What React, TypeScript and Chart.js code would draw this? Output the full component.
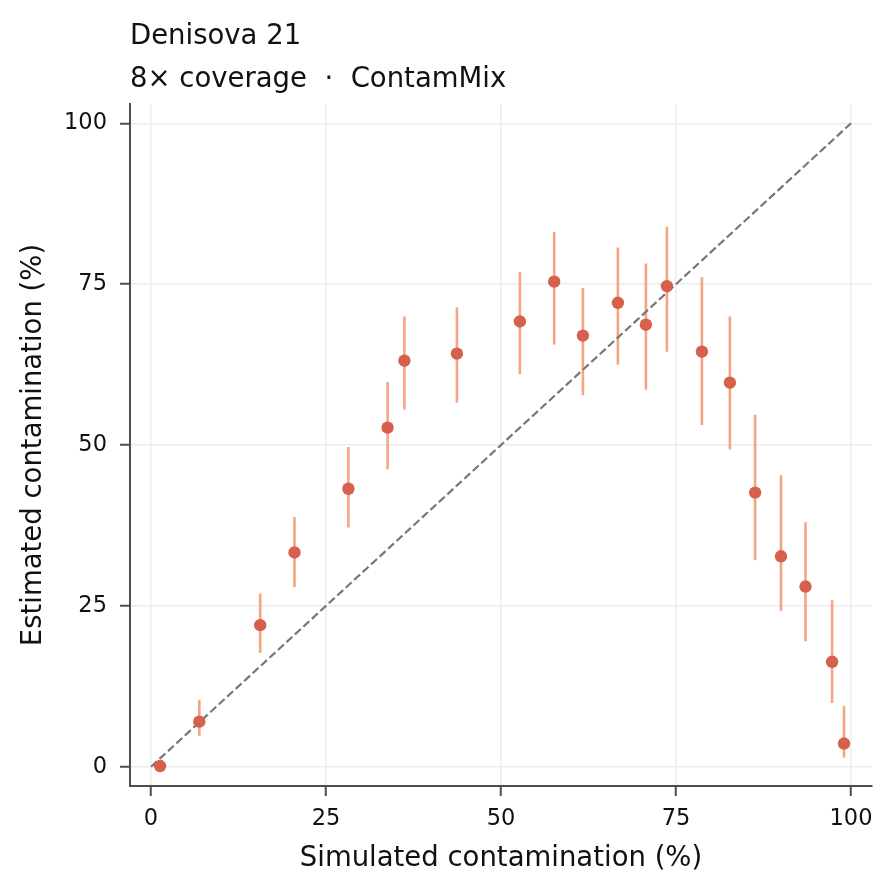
import React, { useEffect, useRef } from 'react';
import { Chart, registerables } from 'chart.js';

Chart.register(...registerables);

// Simulated vs estimated contamination (%), with interval bounds
const simulated = [1.3, 6.9, 15.6, 20.5, 28.2, 33.8, 36.2, 43.7, 52.7, 57.6, 61.7, 66.7, 70.7, 73.7, 78.7, 82.7, 86.3, 90.0, 93.5, 97.3, 99.0];
const estimated = [0.1, 7.0, 22.0, 33.3, 43.2, 52.7, 63.1, 64.2, 69.2, 75.4, 67.0, 72.1, 68.7, 74.7, 64.5, 59.7, 42.6, 32.7, 28.0, 16.3, 3.6];
const ciLow = [0.0, 4.8, 17.7, 27.9, 37.2, 46.2, 55.5, 56.6, 61.0, 65.6, 57.7, 62.5, 58.6, 64.5, 53.1, 49.3, 32.1, 24.2, 19.5, 9.9, 1.4];
const ciHigh = [0.3, 10.4, 26.9, 38.8, 49.7, 59.8, 70.0, 71.4, 76.9, 83.1, 74.4, 80.7, 78.2, 83.9, 76.1, 70.0, 54.7, 45.3, 38.0, 25.9, 9.4];
const identityLine = [0, 100];
const tickValues = [0, 25, 50, 75, 100];

const FONT = '"DejaVu Sans", sans-serif';
const SPINE = '#4d4d4d';
const GRID = '#ececec';
const TEXT = '#111111';

// vertical error bars, drawn under the markers
const errorBars = {
  id: 'errorBars',
  beforeDatasetsDraw(chart: any) {
    const { ctx, scales } = chart;
    const x = scales.x;
    const y = scales.y;
    ctx.save();
    ctx.strokeStyle = '#f4a582';
    ctx.lineWidth = 2.6;
    simulated.forEach((sx, i) => {
      const px = x.getPixelForValue(sx);
      ctx.beginPath();
      ctx.moveTo(px, y.getPixelForValue(ciLow[i]));
      ctx.lineTo(px, y.getPixelForValue(ciHigh[i]));
      ctx.stroke();
    });
    ctx.restore();
  },
};

const fixedTicks = (scale: any) => {
  scale.ticks = tickValues.map((v) => ({ value: v }));
};

const App: React.FC = () => {
  const chartRef = useRef<HTMLCanvasElement>(null);
  const chartInstance = useRef<Chart | null>(null);

  useEffect(() => {
    if (!chartRef.current) return;
    if (chartInstance.current) chartInstance.current.destroy();

    Chart.defaults.font.family = FONT;

    chartInstance.current = new Chart(chartRef.current, {
      type: 'scatter',
      data: {
        datasets: [
          {
            label: 'Estimate',
            data: simulated.map((sx, i) => ({ x: sx, y: estimated[i] })),
            pointRadius: 6.2,
            pointBackgroundColor: '#d6604d',
            pointBorderWidth: 0,
            borderColor: '#d6604d',
            order: 0,
          },
          {
            label: 'y = x',
            data: identityLine.map((v) => ({ x: v, y: v })),
            showLine: true,
            borderColor: '#777777',
            borderWidth: 2.2,
            borderDash: [8, 3.5],
            pointRadius: 0,
            order: 1,
          },
        ],
      },
      options: {
        animation: false,
        responsive: true,
        maintainAspectRatio: false,
        layout: { padding: { left: 0, right: 22, top: 0, bottom: 0 } },
        plugins: {
          legend: { display: false },
          tooltip: { enabled: false },
          title: {
            display: true,
            text: 'Denisova 21',
            align: 'start',
            fullSize: false,
            color: TEXT,
            font: { family: FONT, size: 27.5, weight: 'normal' },
            padding: { top: 20.7, bottom: 0 },
          },
          subtitle: {
            display: true,
            text: '8× coverage  ·  ContamMix',
            align: 'start',
            fullSize: false,
            color: TEXT,
            font: { family: FONT, size: 27.5, weight: 'normal' },
            padding: { top: 9.8, bottom: 7.5 },
          },
        },
        scales: {
          x: {
            type: 'linear',
            min: -3,
            max: 103,
            afterBuildTicks: fixedTicks,
            afterFit: (scale: any) => {
              scale.height = 107;
            },
            grid: { color: GRID, lineWidth: 1.5, tickColor: SPINE, tickWidth: 2, tickLength: 10 },
            border: { color: SPINE, width: 2 },
            ticks: { color: TEXT, font: { family: FONT, size: 22.5 }, padding: 10, maxRotation: 0 },
            title: {
              display: true,
              text: 'Simulated contamination (%)',
              color: TEXT,
              font: { family: FONT, size: 27.5 },
              padding: { top: 0, bottom: 17.5 },
            },
          },
          y: {
            type: 'linear',
            min: -3,
            max: 103,
            afterBuildTicks: fixedTicks,
            afterFit: (scale: any) => {
              scale.width = 130;
            },
            grid: { color: GRID, lineWidth: 1.5, tickColor: SPINE, tickWidth: 2, tickLength: 10 },
            border: { color: SPINE, width: 2 },
            ticks: { color: TEXT, font: { family: FONT, size: 22.5 }, padding: 13 },
            title: {
              display: true,
              text: 'Estimated contamination (%)',
              color: TEXT,
              font: { family: FONT, size: 27.5 },
              padding: { top: 17, bottom: 0 },
            },
          },
        },
      },
      plugins: [errorBars],
    });

    return () => {
      if (chartInstance.current) {
        chartInstance.current.destroy();
        chartInstance.current = null;
      }
    };
  }, []);

  return (
    <div style={{ position: 'fixed', left: 0, top: 0, width: 894, height: 893, background: '#ffffff' }}>
      <canvas ref={chartRef} />
    </div>
  );
};

export default App;
